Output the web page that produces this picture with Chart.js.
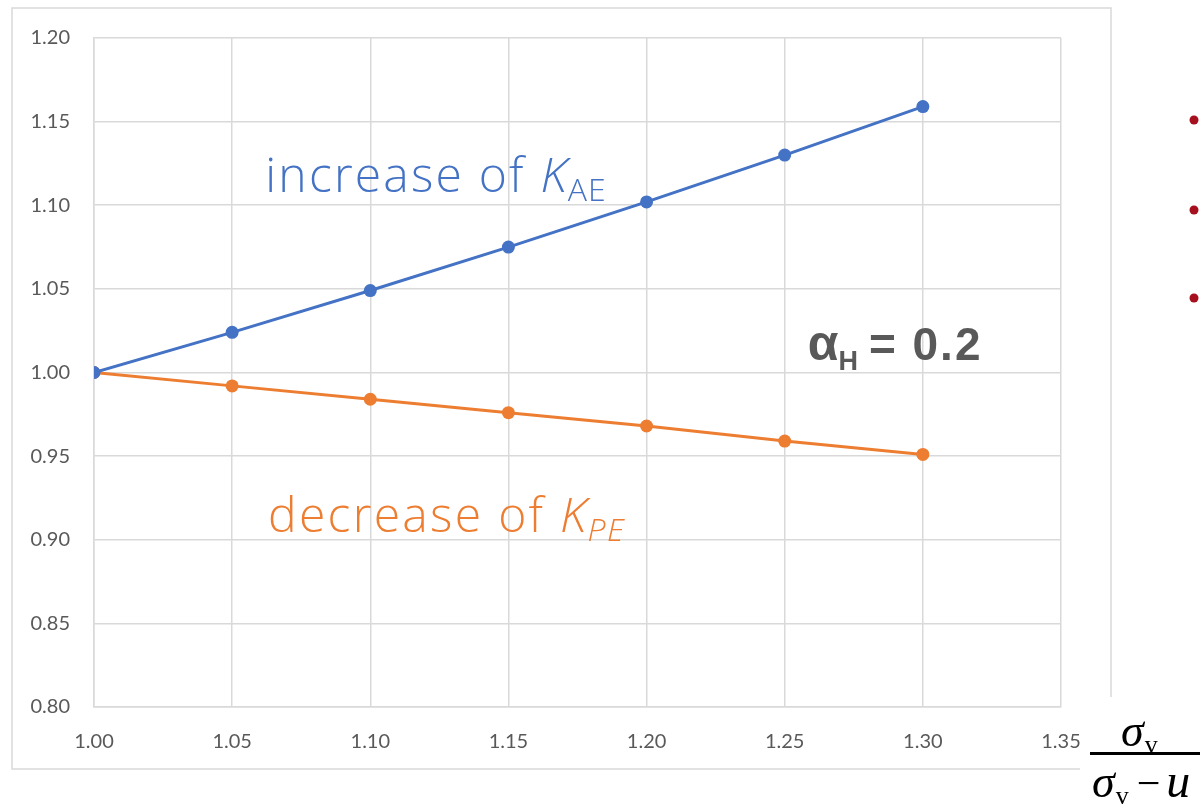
<!DOCTYPE html>
<html>
<head>
<meta charset="utf-8">
<script src="https://cdn.jsdelivr.net/npm/chart.js@4/dist/chart.umd.min.js"></script>
<style>
  html, body { margin: 0; padding: 0; background: #fff; }
  #wrap { width: 1202px; height: 811px; position: relative; }
</style>
</head>
<body>
<div id="wrap"><canvas id="ratioChart" width="1202" height="811"></canvas></div>
<script>
// x = sigma_v / (sigma_v - u)
const ratios = [1.00, 1.05, 1.10, 1.15, 1.20, 1.25, 1.30];
const kaeValues = [1.000, 1.024, 1.049, 1.075, 1.102, 1.130, 1.159];
const kpeValues = [1.000, 0.992, 0.984, 0.976, 0.968, 0.959, 0.951];
const xTicks = [1.00, 1.05, 1.10, 1.15, 1.20, 1.25, 1.30, 1.35];
const yTicks = [0.80, 0.85, 0.90, 0.95, 1.00, 1.05, 1.10, 1.15, 1.20];

const BLUE = '#4472c4';
const ORANGE = '#ed7d31';
const GRID = '#d9d9d9';
const TEXT = '#595959';

function toPoints(ys) {
    return ratios.map((x, i) => ({ x: x, y: ys[i] }));
}

// text with a subscript, drawn left to right from (x, y) baseline
function drawSubText(ctx, parts, x, y) {
    parts.forEach(p => {
        ctx.font = p.font;
        ctx.fillStyle = p.color;
        ctx.letterSpacing = (p.ls || 0) + 'px';
        ctx.fillText(p.text, x, y + (p.dy || 0));
        x += ctx.measureText(p.text).width + (p.gap || 0);
    });
    ctx.letterSpacing = '0px';
}

const frameAndNotes = {
    id: 'frameAndNotes',
    beforeDraw(chart) {
        const ctx = chart.ctx;
        ctx.save();
        ctx.strokeStyle = GRID;
        ctx.lineWidth = 1.5;
        ctx.beginPath();
        ctx.moveTo(1080, 769);
        ctx.lineTo(12, 769);
        ctx.lineTo(12, 8);
        ctx.lineTo(1111, 8);
        ctx.lineTo(1111, 697);
        ctx.stroke();
        ctx.restore();
    },
    afterDraw(chart) {
        const ctx = chart.ctx;
        const xs = chart.scales.x, ys = chart.scales.y;
        const light = '300 48px "Open Sans"';
        const lightIt = 'italic 300 48px "Open Sans"';
        const sub = '300 32px "Open Sans"';
        const subIt = 'italic 300 32px "Open Sans"';
        ctx.save();
        ctx.textBaseline = 'alphabetic';
        ctx.textAlign = 'left';

        drawSubText(ctx, [
            { text: 'increase of ', font: light, color: BLUE, ls: 2.2 },
            { text: 'K', font: lightIt, color: BLUE, gap: 1 },
            { text: 'AE', font: sub, color: BLUE, dy: 9, ls: 1 }
        ], xs.getPixelForValue(1.062), ys.getPixelForValue(1.108));

        drawSubText(ctx, [
            { text: 'decrease of ', font: light, color: ORANGE, ls: 2.3 },
            { text: 'K', font: lightIt, color: ORANGE, gap: 1 },
            { text: 'PE', font: subIt, color: ORANGE, dy: 9, ls: 1.5 }
        ], xs.getPixelForValue(1.063), ys.getPixelForValue(0.9045));

        drawSubText(ctx, [
            { text: 'α', font: 'bold 50px "Liberation Sans"', color: TEXT },
            { text: 'H', font: 'bold 27px "Liberation Sans"', color: TEXT, dy: 10, gap: 11 },
            { text: '= 0.2', font: 'bold 46px "Liberation Sans"', color: TEXT, ls: 2 }
        ], xs.getPixelForValue(1.2583), ys.getPixelForValue(1.0074));

        // red bullets at the right edge
        ctx.fillStyle = '#a50f1e';
        [120, 210, 298].forEach(by => {
            ctx.beginPath();
            ctx.arc(1194, by, 4.5, 0, Math.PI * 2);
            ctx.fill();
        });

        // axis fraction sigma_v / (sigma_v - u)
        drawSubText(ctx, [
            { text: 'σ', font: 'italic 46px "Liberation Serif"', color: '#000', gap: 1 },
            { text: 'v', font: '26px "Liberation Serif"', color: '#000', dy: 7 }
        ], 1121, 746);
        ctx.fillStyle = '#000';
        ctx.fillRect(1090, 752, 110, 3);
        drawSubText(ctx, [
            { text: 'σ', font: 'italic 46px "Liberation Serif"', color: '#000', gap: 1 },
            { text: 'v', font: '26px "Liberation Serif"', color: '#000', dy: 7, gap: 8 },
            { text: '−', font: '42px "Liberation Serif"', color: '#000', gap: 6 },
            { text: 'u', font: 'italic 48px "Liberation Serif"', color: '#000' }
        ], 1092, 797);
        ctx.restore();
    }
};

new Chart(document.getElementById('ratioChart'), {
    type: 'line',
    data: {
        datasets: [
            {
                label: 'K_AE',
                data: toPoints(kaeValues),
                borderColor: BLUE,
                backgroundColor: BLUE,
                borderWidth: 3,
                pointRadius: 6.5,
                pointBorderWidth: 0,
                tension: 0
            },
            {
                label: 'K_PE',
                data: toPoints(kpeValues),
                borderColor: ORANGE,
                backgroundColor: ORANGE,
                borderWidth: 3,
                pointRadius: 6.5,
                pointBorderWidth: 0,
                tension: 0
            }
        ]
    },
    options: {
        responsive: false,
        animation: false,
        layout: { padding: { left: 12, top: 38, right: 141, bottom: 42 } },
        plugins: { legend: { display: false }, tooltip: { enabled: false } },
        scales: {
            x: {
                type: 'linear',
                min: 1.00,
                max: 1.35,
                afterBuildTicks: s => { s.ticks = xTicks.map(v => ({ value: v })); },
                afterFit: s => { s.height = 62; },
                grid: { color: GRID, lineWidth: 1.5, drawTicks: false },
                border: { color: GRID, width: 1.5 },
                ticks: {
                    padding: 23,
                    color: TEXT,
                    font: { family: 'Lato', size: 20 },
                    callback: v => Number(v).toFixed(2)
                }
            },
            y: {
                min: 0.80,
                max: 1.20,
                afterBuildTicks: s => { s.ticks = yTicks.map(v => ({ value: v })); },
                afterFit: s => { s.width = 82; },
                grid: { color: GRID, lineWidth: 1.5, drawTicks: false },
                border: { color: GRID, width: 1.5 },
                ticks: {
                    padding: 24,
                    color: TEXT,
                    font: { family: 'Lato', size: 20 },
                    callback: v => Number(v).toFixed(2)
                }
            }
        }
    },
    plugins: [frameAndNotes]
});
</script>
</body>
</html>
